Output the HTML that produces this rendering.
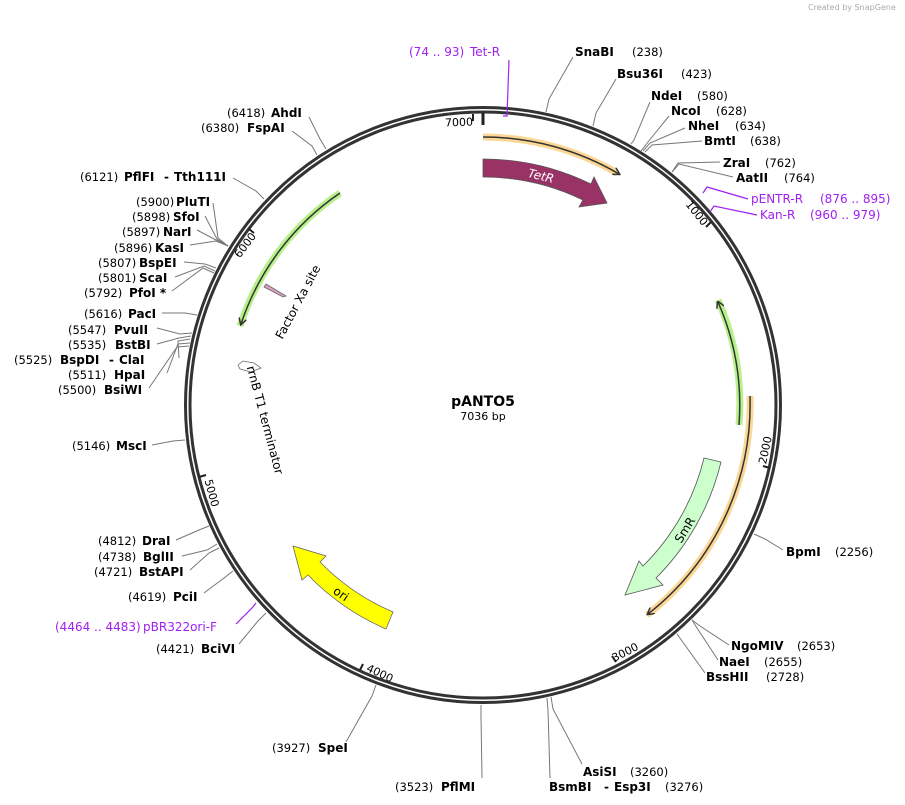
<!DOCTYPE html>
<html><head><meta charset="utf-8"><style>
html,body{margin:0;padding:0;background:#fff}
svg{display:block}
.n{font:bold 12px "DejaVu Sans","Liberation Sans",sans-serif;fill:#000}
.p{font:11.5px "DejaVu Sans","Liberation Sans",sans-serif;fill:#000}
.v{font:12px "DejaVu Sans","Liberation Sans",sans-serif;fill:#a020f0}
.t{font:11px "DejaVu Sans","Liberation Sans",sans-serif;fill:#000}
.l{stroke:#777;stroke-width:1;fill:none}
.pl{stroke:#a020f0;stroke-width:1.2;fill:none}
</style></head><body>
<svg width="905" height="805" viewBox="0 0 905 805" xmlns="http://www.w3.org/2000/svg">
<defs>
<marker id="ah" markerWidth="8" markerHeight="8" refX="6" refY="4" orient="auto" markerUnits="userSpaceOnUse"><path d="M0,0 L7,4 L0,8" fill="none" stroke="#333" stroke-width="1.5"/></marker>
<marker id="ahs" markerWidth="8" markerHeight="8" refX="1" refY="4" orient="auto" markerUnits="userSpaceOnUse"><path d="M7,0 L0,4 L7,8" fill="none" stroke="#333" stroke-width="1.5"/></marker>
</defs>
<text x="808" y="10" style="font:8px 'DejaVu Sans',sans-serif;fill:#aaa">Created by SnapGene</text>
<!-- backbone -->
<circle cx="483" cy="405" r="297.5" fill="none" stroke="#333" stroke-width="3"/>
<circle cx="483" cy="405" r="293" fill="none" stroke="#333" stroke-width="3"/>
<!-- ticks -->
<g stroke="#222" stroke-width="2">
<line x1="483" y1="113" x2="483" y2="125" stroke-width="3"/>
<line x1="473" y1="114" x2="473" y2="121"/>
<line x1="711" y1="222" x2="706" y2="227"/>
<line x1="770" y1="468" x2="763" y2="466"/>
<line x1="616" y1="662" x2="612" y2="656"/>
<line x1="360" y1="670" x2="363" y2="664"/>
<line x1="199" y1="477" x2="206" y2="475"/>
<line x1="249" y1="229" x2="254" y2="233"/>
</g>
<g class="t">
<text x="459" y="126" text-anchor="middle" transform="rotate(-2 459 122)">7000</text>
<text x="697" y="217" text-anchor="middle" transform="rotate(51 697 213)">1000</text>
<text x="765" y="454" text-anchor="middle" transform="rotate(-78 765 450)">2000</text>
<text x="625" y="656" text-anchor="middle" transform="rotate(-27 625 652)">3000</text>
<text x="380" y="677" text-anchor="middle" transform="rotate(25 380 673)">4000</text>
<text x="212" y="497" text-anchor="middle" transform="rotate(75 212 493)">5000</text>
<text x="245" y="249" text-anchor="middle" transform="rotate(-53 245 245)">6000</text>
</g>
<!-- features -->
<path d="M483,137 A268,268 0 0 1 617,173" fill="none" stroke="#fbd38a" stroke-width="7" stroke-opacity="0.9"/>
<path d="M483,137 A268,268 0 0 1 619,174" fill="none" stroke="#333" stroke-width="1.5" marker-end="url(#ah)"/>
<path d="M750,396 A267,267 0 0 1 647,615" fill="none" stroke="#fbd38a" stroke-width="7" stroke-opacity="0.9"/>
<path d="M750,396 A267,267 0 0 1 648,614" fill="none" stroke="#333" stroke-width="1.5" marker-end="url(#ah)"/>
<path d="M718,300 A257,257 0 0 1 739,425" fill="none" stroke="#b8f08c" stroke-width="7"/>
<path d="M718,302 A257,257 0 0 1 739,425" fill="none" stroke="#333" stroke-width="1.5" marker-start="url(#ahs)"/>
<path d="M340,193 A256,256 0 0 0 240,326" fill="none" stroke="#b8f08c" stroke-width="7"/>
<path d="M340,193 A256,256 0 0 0 241,324" fill="none" stroke="#333" stroke-width="1.5" marker-end="url(#ah)"/>
<path d="M483,159 A246,246 0 0 1 591,184 L594,177 L607,203 L579,207 L583,200 A228,228 0 0 0 483,177 Z" fill="#993366" stroke="#555" stroke-width="0.8"/>
<text x="541" y="180" text-anchor="middle" transform="rotate(14 541 176)" style="font:italic 12px 'DejaVu Sans',sans-serif;fill:#fff">TetR</text>
<path d="M704,458 L721,462 A245,245 0 0 1 656,578 L663,585 L625,595 L639,561 L643,566 A227,227 0 0 0 704,458 Z" fill="#ccffcc" stroke="#555" stroke-width="0.8"/>
<text x="685" y="534" text-anchor="middle" transform="rotate(-58 685 530)" class="t" style="font-size:12px">SmR</text>
<path d="M386,629 L393,612 A226,226 0 0 1 320,562 L326,556 L293,546 L302,580 L308,575 A244,244 0 0 0 386,629 Z" fill="#ffff00" stroke="#666" stroke-width="0.8"/>
<text x="341" y="598" text-anchor="middle" transform="rotate(35 341 594)" class="t" style="font-size:12px">ori</text>
<path d="M266,284 L286,296 L283,297 L264,287 Z" fill="#d9a0c0" stroke="#666" stroke-width="0.8"/>
<text x="298" y="306" text-anchor="middle" transform="rotate(-62 298 302)" class="t" style="font-size:12px">Factor Xa site</text>
<path d="M238,365 L243,361 L254,363 L261,368 L251,372 L240,369 Z" fill="#fff" stroke="#666" stroke-width="0.8"/>
<text x="265" y="424" text-anchor="middle" transform="rotate(75 265 420)" class="t" style="font-size:12px">rrnB T1 terminator</text>
<!-- center -->
<text x="483" y="406" text-anchor="middle" style="font:bold 14px 'DejaVu Sans',sans-serif">pANTO5</text>
<text x="483" y="420" text-anchor="middle" class="t">7036 bp</text>
<!-- lines right -->
<g class="l">
<polyline points="546,112 549,99 573,57"/>
<polyline points="593,126 596,113 616,79"/>
<polyline points="631,144 634,140 650,102"/>
<polyline points="641,151 648,142 669,116"/>
<polyline points="643,151 650,143 685,128"/>
<polyline points="645,152 652,145 702,141"/>
<polyline points="672,172 678,163 720,162"/>
<polyline points="672,172 679,164 733,177"/>
<polyline points="754,534 765,539 783,550"/>
<polyline points="692,620 700,626 729,645"/>
<polyline points="692,620 697,628 718,660"/>
<polyline points="677,634 682,641 705,673"/>
<polyline points="551,697 553,709 582,764"/>
<polyline points="547,698 548,710 550,778"/>
<polyline points="481,705 481,717 482,778"/>
<polyline points="376,685 372,696 346,742"/>
<polyline points="266,613 258,621 239,644"/>
<polyline points="233,571 224,578 204,593"/>
<polyline points="219,548 209,553 190,570"/>
<polyline points="217,544 207,550 182,556"/>
<polyline points="209,526 199,530 176,540"/>
<polyline points="185,440 173,441 152,445"/>
<polyline points="189,346 177,347 149,388"/>
<polyline points="190,343 178,344 167,373"/>
<polyline points="190,339 178,341 179,358"/>
<polyline points="191,336 179,338 157,344"/>
<polyline points="192,333 180,334 157,328"/>
<polyline points="197,315 185,313 162,313"/>
<polyline points="214,273 203,268 172,291"/>
<polyline points="215,271 204,266 175,277"/>
<polyline points="216,268 205,264 184,262"/>
<polyline points="228,246 216,241 190,245"/>
<polyline points="228,246 216,240 197,230"/>
<polyline points="228,246 217,239 205,216"/>
<polyline points="228,246 218,238 213,203"/>
<polyline points="264,199 256,191 233,178"/>
<polyline points="317,155 312,146 292,131"/>
<polyline points="326,149 320,139 309,117"/>
</g>
<!-- primers -->
<g class="pl">
<polyline points="503,116 507,116 509,60"/>
<polyline points="703,193 707,187 748,199"/>
<polyline points="710,212 714,206 757,215"/>
<polyline points="256,603 252,608 236,624"/>
</g>
<!-- labels -->
<text class="v" x="409" y="56">(74 .. 93)</text><text class="v" x="470" y="56">Tet-R</text>
<text class="n" x="575" y="56">SnaBI</text><text class="p" x="632" y="56">(238)</text>
<text class="n" x="617" y="78">Bsu36I</text><text class="p" x="681" y="78">(423)</text>
<text class="n" x="651" y="100">NdeI</text><text class="p" x="697" y="100">(580)</text>
<text class="n" x="671" y="115">NcoI</text><text class="p" x="716" y="115">(628)</text>
<text class="n" x="688" y="130">NheI</text><text class="p" x="735" y="130">(634)</text>
<text class="n" x="704" y="145">BmtI</text><text class="p" x="750" y="145">(638)</text>
<text class="n" x="723" y="167">ZraI</text><text class="p" x="765" y="167">(762)</text>
<text class="n" x="736" y="182">AatII</text><text class="p" x="784" y="182">(764)</text>
<text class="v" x="751" y="203">pENTR-R</text><text class="v" x="820" y="203">(876 .. 895)</text>
<text class="v" x="760" y="219">Kan-R</text><text class="v" x="810" y="219">(960 .. 979)</text>
<text class="n" x="786" y="556">BpmI</text><text class="p" x="835" y="556">(2256)</text>
<text class="n" x="731" y="650">NgoMIV</text><text class="p" x="797" y="650">(2653)</text>
<text class="n" x="719" y="666">NaeI</text><text class="p" x="764" y="666">(2655)</text>
<text class="n" x="706" y="681">BssHII</text><text class="p" x="766" y="681">(2728)</text>
<text class="n" x="583" y="776">AsiSI</text><text class="p" x="630" y="776">(3260)</text>
<text class="n" x="549" y="791">BsmBI</text><text class="n" x="604" y="791">-</text><text class="n" x="614" y="791">Esp3I</text><text class="p" x="665" y="791">(3276)</text>
<text class="p" x="395" y="791">(3523)</text><text class="n" x="441" y="791">PflMI</text>
<text class="p" x="272" y="752">(3927)</text><text class="n" x="318" y="752">SpeI</text>
<text class="p" x="156" y="653">(4421)</text><text class="n" x="201" y="653">BciVI</text>
<text class="v" x="55" y="631">(4464 .. 4483)</text><text class="v" x="143" y="631">pBR322ori-F</text>
<text class="p" x="128" y="601">(4619)</text><text class="n" x="173" y="601">PciI</text>
<text class="p" x="94" y="576">(4721)</text><text class="n" x="139" y="576">BstAPI</text>
<text class="p" x="98" y="561">(4738)</text><text class="n" x="143" y="561">BglII</text>
<text class="p" x="98" y="545">(4812)</text><text class="n" x="142" y="545">DraI</text>
<text class="p" x="72" y="450">(5146)</text><text class="n" x="116" y="450">MscI</text>
<text class="p" x="58" y="394">(5500)</text><text class="n" x="104" y="394">BsiWI</text>
<text class="p" x="68" y="379">(5511)</text><text class="n" x="114" y="379">HpaI</text>
<text class="p" x="14" y="364">(5525)</text><text class="n" x="60" y="364">BspDI</text><text class="n" x="109" y="364">-</text><text class="n" x="119" y="364">ClaI</text>
<text class="p" x="68" y="349">(5535)</text><text class="n" x="115" y="349">BstBI</text>
<text class="p" x="68" y="334">(5547)</text><text class="n" x="114" y="334">PvuII</text>
<text class="p" x="84" y="318">(5616)</text><text class="n" x="128" y="318">PacI</text>
<text class="p" x="84" y="297">(5792)</text><text class="n" x="129" y="297">PfoI *</text>
<text class="p" x="98" y="282">(5801)</text><text class="n" x="139" y="282">ScaI</text>
<text class="p" x="98" y="267">(5807)</text><text class="n" x="139" y="267">BspEI</text>
<text class="p" x="114" y="252">(5896)</text><text class="n" x="155" y="252">KasI</text>
<text class="p" x="122" y="236">(5897)</text><text class="n" x="163" y="236">NarI</text>
<text class="p" x="132" y="221">(5898)</text><text class="n" x="173" y="221">SfoI</text>
<text class="p" x="136" y="206">(5900)</text><text class="n" x="176" y="206">PluTI</text>
<text class="p" x="80" y="181">(6121)</text><text class="n" x="124" y="181">PflFI</text><text class="n" x="164" y="181">-</text><text class="n" x="174" y="181">Tth111I</text>
<text class="p" x="201" y="132">(6380)</text><text class="n" x="247" y="132">FspAI</text>
<text class="p" x="227" y="117">(6418)</text><text class="n" x="271" y="117">AhdI</text>
</svg>
</body></html>
